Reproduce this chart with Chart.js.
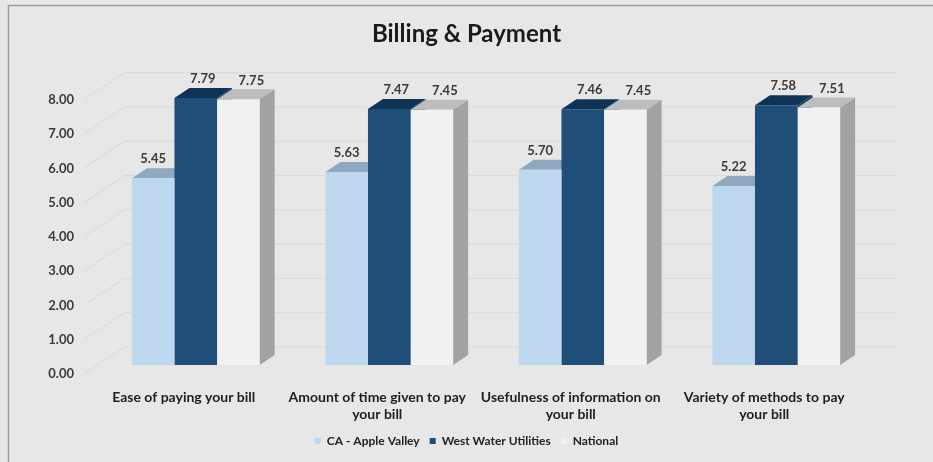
<!DOCTYPE html>
<html>
<head>
<meta charset="utf-8">
<script src="https://cdn.jsdelivr.net/npm/chart.js@4/dist/chart.umd.min.js"></script>
<style>
  html, body { margin: 0; padding: 0; background: #e7e7e7; }
  #wrap { width: 933px; height: 462px; }
</style>
</head>
<body>
<div id="wrap"><canvas id="chart" width="933" height="462"></canvas></div>
<script>
// data
const categories = [
  ["Ease of paying your bill"],
  ["Amount of time given to pay", "your bill"],
  ["Usefulness of information on", "your bill"],
  ["Variety of methods to pay", "your bill"]
];
const appleValley = [5.45, 5.63, 5.70, 5.22];
const westWater = [7.79, 7.47, 7.46, 7.58];
const national = [7.75, 7.45, 7.45, 7.51];
const seriesNames = ["CA - Apple Valley", "West Water Utilities", "National"];
const yTicks = [0, 1, 2, 3, 4, 5, 6, 7, 8];

const FONT = "Lato, 'Open Sans', sans-serif";
const DEPTH_X = 15, DEPTH_Y = 10;   // bar depth
const WALL_X = 25, WALL_Y = 18;     // back wall offset

// front, top, side colours per series
const faces = [
  { front: '#bdd7ee', top: '#8fa8bf', side: '#9bb5cc' },
  { front: '#1f4e79', top: '#0f3354', side: '#163c5e' },
  { front: '#f1f1f1', top: '#bdbdbd', side: '#a2a2a2' }
];
const labelShift = [0, 7, 13];

const backgroundPlugin = {
  id: 'background',
  beforeDraw: (chart) => {
    const ctx = chart.ctx;
    ctx.save();
    ctx.fillStyle = '#e7e7e7';
    ctx.fillRect(0, 0, chart.width, chart.height);
    ctx.strokeStyle = '#9d9d9d';
    ctx.lineWidth = 1.5;
    ctx.beginPath();
    ctx.moveTo(chart.width + 5, 5.5);
    ctx.lineTo(8.5, 5.5);
    ctx.lineTo(8.5, chart.height + 5);
    ctx.stroke();
    ctx.restore();
  }
};

const bar3dPlugin = {
  id: 'bar3d',
  beforeDatasetsDraw: (chart) => {
    const ctx = chart.ctx;
    const area = chart.chartArea;
    const yScale = chart.scales.y;
    ctx.save();

    // back wall grid lines + side wall diagonals
    ctx.strokeStyle = '#d9d9d9';
    ctx.lineWidth = 1;
    for (const v of yTicks) {
      const y = yScale.getPixelForValue(v);
      ctx.beginPath();
      ctx.moveTo(area.left - 15, y + 9);
      ctx.lineTo(area.left + WALL_X, y - WALL_Y);
      ctx.lineTo(area.right + WALL_X - 1, y - WALL_Y);
      ctx.stroke();
    }

    // sides and tops, left to right so later fronts cover earlier sides
    for (let i = 0; i < categories.length; i++) {
      chart.data.datasets.forEach((ds, d) => {
        const bar = chart.getDatasetMeta(d).data[i];
        const x0 = bar.x - bar.width / 2;
        const x1 = bar.x + bar.width / 2;
        const top = bar.y, base = bar.base;
        ctx.fillStyle = faces[d].side;
        ctx.beginPath();
        ctx.moveTo(x1, top);
        ctx.lineTo(x1 + DEPTH_X, top - DEPTH_Y);
        ctx.lineTo(x1 + DEPTH_X, base - DEPTH_Y);
        ctx.lineTo(x1, base);
        ctx.closePath();
        ctx.fill();
        ctx.fillStyle = faces[d].top;
        ctx.beginPath();
        ctx.moveTo(x0, top);
        ctx.lineTo(x1, top);
        ctx.lineTo(x1 + DEPTH_X, top - DEPTH_Y);
        ctx.lineTo(x0 + DEPTH_X, top - DEPTH_Y);
        ctx.closePath();
        ctx.fill();
      });
    }
    ctx.restore();
  },
  afterDatasetsDraw: (chart) => {
    const ctx = chart.ctx;
    ctx.save();
    ctx.font = 'bold 13px ' + FONT;
    ctx.fillStyle = '#3a3a3a';
    ctx.textAlign = 'center';
    ctx.textBaseline = 'middle';
    chart.data.datasets.forEach((ds, d) => {
      chart.getDatasetMeta(d).data.forEach((bar, i) => {
        ctx.fillText(ds.data[i].toFixed(2), bar.x + labelShift[d], bar.y - 19);
      });
    });
    ctx.restore();
  }
};

function makeDataset(label, values, d) {
  return {
    label: label,
    data: values,
    backgroundColor: faces[d].front,
    borderWidth: 0,
    categoryPercentage: 0.66,
    barPercentage: 1.0
  };
}

const config = {
  type: 'bar',
  data: {
    labels: categories,
    datasets: [
      makeDataset(seriesNames[0], appleValley, 0),
      makeDataset(seriesNames[1], westWater, 1),
      makeDataset(seriesNames[2], national, 2)
    ]
  },
  options: {
    responsive: false,
    animation: false,
    layout: { padding: { left: 0, right: 0, top: 0, bottom: 5 } },
    scales: {
      x: {
        grid: { display: false, drawTicks: false },
        border: { display: false },
        ticks: {
          padding: 24,
          labelOffset: -12,
          color: '#1e1e1e',
          font: { family: FONT, size: 14, weight: 'bold', lineHeight: 1.2 },
          maxRotation: 0,
          autoSkip: false
        },
        afterFit: (scale) => { scale.height = 60; }
      },
      y: {
        min: 0,
        max: 8,
        grid: { display: false, drawTicks: false },
        border: { display: false },
        ticks: {
          stepSize: 1,
          padding: 25,
          labelOffset: 9,
          color: '#3a3a3a',
          font: { family: FONT, size: 13, weight: 'bold' },
          callback: (v) => Number(v).toFixed(2)
        },
        afterFit: (scale) => { scale.width = 99; }
      },
      // empty right-hand axis keeps the plot narrower, like the original
      yRight: {
        position: 'right',
        min: 0,
        max: 8,
        grid: { display: false, drawTicks: false },
        border: { display: false },
        ticks: { display: false },
        afterFit: (scale) => { scale.width = 60; }
      }
    },
    plugins: {
      title: {
        display: true,
        text: 'Billing & Payment',
        color: '#1a1a1a',
        font: { family: FONT, size: 24, weight: 'bold' },
        padding: { top: 20, bottom: 42 }
      },
      legend: {
        position: 'bottom',
        labels: {
          boxWidth: 6,
          boxHeight: 6,
          padding: 10,
          color: '#222',
          font: { family: FONT, size: 12, weight: 'bold' }
        }
      },
      tooltip: { enabled: false }
    }
  },
  plugins: [backgroundPlugin, bar3dPlugin]
};

new Chart(document.getElementById('chart'), config);
</script>
</body>
</html>
